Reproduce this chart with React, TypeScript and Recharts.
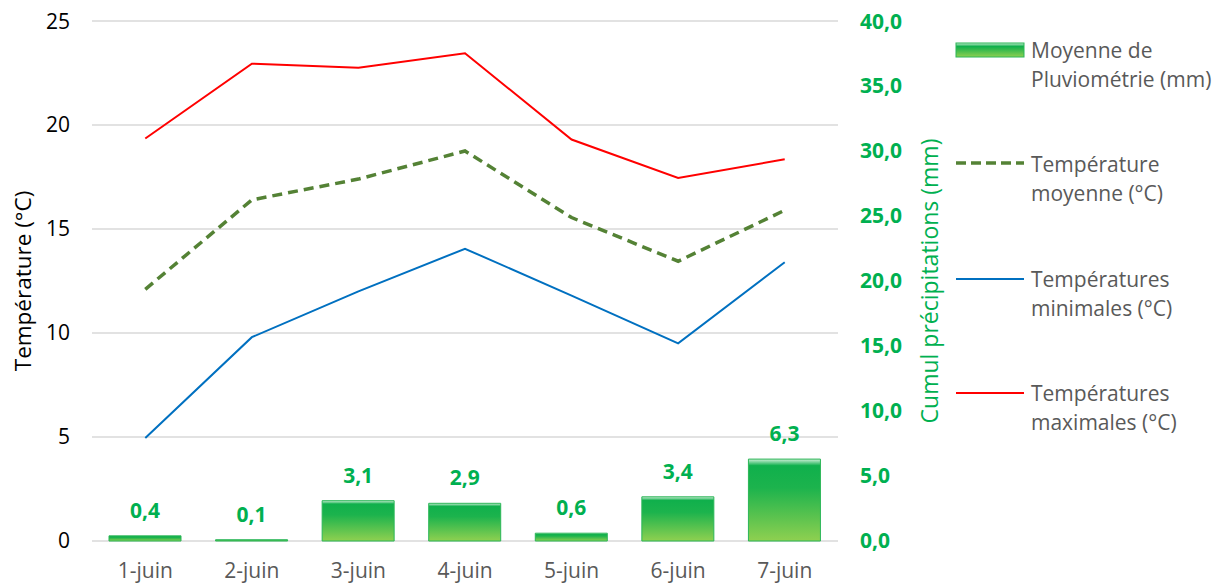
import React from 'react';
import { ComposedChart, Bar, Line, XAxis, YAxis, CartesianGrid, LabelList } from 'recharts';

const days = ['1-juin', '2-juin', '3-juin', '4-juin', '5-juin', '6-juin', '7-juin'];
const precip = [0.4, 0.1, 3.1, 2.9, 0.6, 3.4, 6.3];
const tMean = [12.1, 16.4, 17.4, 18.75, 15.55, 13.45, 15.9];
const tMin = [4.95, 9.8, 12.0, 14.05, 11.8, 9.5, 13.4];
const tMax = [19.35, 22.95, 22.75, 23.45, 19.3, 17.45, 18.35];
const leftTicks = [0, 5, 10, 15, 20, 25];
const rightTicks = [0, 5, 10, 15, 20, 25, 30, 35, 40];

const data = days.map((d, i) => ({ day: d, precip: precip[i], tMean: tMean[i], tMin: tMin[i], tMax: tMax[i] }));

const FONT = '"Open Sans", sans-serif';
const GREEN = '#00b050';
const GRAY = '#595959';

const fmt = (v: number) => v.toFixed(1).replace('.', ',');

const LegendBox = () => {
  const textStyle = { fontFamily: FONT, fontSize: 21, fill: GRAY };
  // coordinates relative to legend origin (picture x-948, y-8)
  return (
    <svg width={276} height={440} style={{ position: 'absolute', left: 940, top: 0, overflow: 'visible' }}>
      <defs>
        <linearGradient id="legGrad" x1="0" y1="0" x2="0" y2="1">
          <stop offset="0%" stopColor="#c9eed3" />
          <stop offset="25%" stopColor="#10b04c" />
          <stop offset="100%" stopColor="#8fd050" />
        </linearGradient>
      </defs>
      <rect x={8} y={35} width={68} height={14} fill="url(#legGrad)" stroke="#2bb657" strokeWidth={1} />
      <text x={83} y={42} dominantBaseline="central" style={textStyle}>Moyenne de</text>
      <text x={83} y={71} dominantBaseline="central" style={textStyle}>Pluviométrie (mm)</text>

      <line x1={8} y1={155} x2={76} y2={155} stroke="#548235" strokeWidth={3.5} strokeDasharray="10 5" />
      <text x={83} y={156} dominantBaseline="central" style={textStyle}>Température</text>
      <text x={83} y={185} dominantBaseline="central" style={textStyle}>moyenne (°C)</text>

      <line x1={8} y1={271} x2={76} y2={271} stroke="#0070c0" strokeWidth={2} />
      <text x={83} y={271} dominantBaseline="central" style={textStyle}>Températures</text>
      <text x={83} y={300} dominantBaseline="central" style={textStyle}>minimales (°C)</text>

      <line x1={8} y1={385} x2={76} y2={385} stroke="#ff0000" strokeWidth={2} />
      <text x={83} y={385} dominantBaseline="central" style={textStyle}>Températures</text>
      <text x={83} y={414} dominantBaseline="central" style={textStyle}>maximales (°C)</text>
    </svg>
  );
};

const LeftLabel = (props: any) => {
  const vb = props.viewBox || {};
  const cx = 14;
  const cy = vb.y + vb.height / 2;
  return (
    <text x={cx} y={cy} transform={`rotate(-90, ${cx}, ${cy})`} textAnchor="middle" dominantBaseline="central"
      style={{ fontFamily: FONT, fontSize: 22.5, fill: '#000' }}>Température (°C)</text>
  );
};

const RightLabel = (props: any) => {
  const vb = props.viewBox || {};
  const cx = 921;
  const cy = vb.y + vb.height / 2;
  return (
    <text x={cx} y={cy} transform={`rotate(-90, ${cx}, ${cy})`} textAnchor="middle" dominantBaseline="central"
      style={{ fontFamily: FONT, fontSize: 23, fill: GREEN }}>Cumul précipitations (mm)</text>
  );
};

export default function App() {
  const W = 1216;
  const H = 576;
  const leftW = 84;
  const plotRight = 830;
  const rightW = 110;
  return (
    <div style={{ width: W, height: H, position: 'relative', background: '#fff' }}>
      <ComposedChart width={W} height={H} data={data}
        margin={{ top: 13, right: W - plotRight - rightW, bottom: 0, left: 0 }}>
        <defs>
          <linearGradient id="barGrad" x1="0" y1="0" x2="0" y2="1">
            <stop offset="0%" stopColor="#d2f0da" />
            <stop offset="8%" stopColor="#10b04c" />
            <stop offset="35%" stopColor="#1cb34d" />
            <stop offset="100%" stopColor="#8fd050" />
          </linearGradient>
        </defs>
        <CartesianGrid yAxisId="left" vertical={false} stroke="#d9d9d9" strokeWidth={1.5} />
        <XAxis dataKey="day" height={H - 533} axisLine={false} tickLine={false} tickSize={0} tickMargin={22}
          tick={{ fontFamily: FONT, fontSize: 21, fill: GRAY }} interval={0} />
        <YAxis yAxisId="left" orientation="left" width={leftW} domain={[0, 25]} ticks={leftTicks}
          axisLine={false} tickLine={false} tickSize={0} tickMargin={22}
          tick={{ fontFamily: FONT, fontSize: 21, fill: '#000' }} label={<LeftLabel />} />
        <YAxis yAxisId="right" orientation="right" width={rightW} domain={[0, 40]} ticks={rightTicks}
          axisLine={false} tickLine={false} tickSize={0} tickMargin={22}
          tickFormatter={(v: number) => fmt(v)}
          tick={{ fontFamily: FONT, fontSize: 21, fill: GREEN, fontWeight: 'bold' }} label={<RightLabel />} />
        <Bar yAxisId="right" dataKey="precip" barSize={72} fill="url(#barGrad)" stroke="#2bb657" strokeWidth={1}
          isAnimationActive={false}>
          <LabelList dataKey="precip" position="top" offset={18} formatter={(v: any) => fmt(Number(v))}
            style={{ fontFamily: FONT, fontSize: 21, fontWeight: 'bold', fill: GREEN }} />
        </Bar>
        <Line yAxisId="left" dataKey="tMean" stroke="#548235" strokeWidth={3.5} strokeDasharray="10 6" dot={false}
          activeDot={false} isAnimationActive={false} />
        <Line yAxisId="left" dataKey="tMin" stroke="#0070c0" strokeWidth={2} dot={false} activeDot={false}
          isAnimationActive={false} />
        <Line yAxisId="left" dataKey="tMax" stroke="#ff0000" strokeWidth={2} dot={false} activeDot={false}
          isAnimationActive={false} />
      </ComposedChart>
      <LegendBox />
    </div>
  );
}
